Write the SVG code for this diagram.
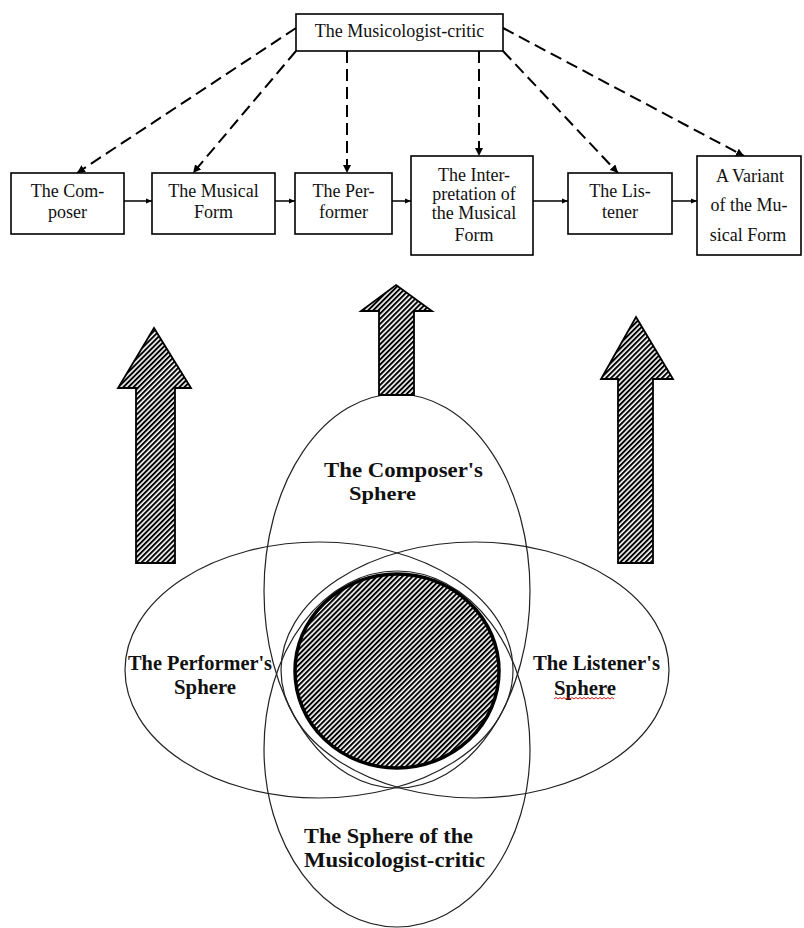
<svg xmlns="http://www.w3.org/2000/svg" width="804" height="928" viewBox="0 0 804 928">
<defs>
<pattern id="hatch" width="3.6" height="3.6" patternUnits="userSpaceOnUse" patternTransform="rotate(45)">
<rect width="3.6" height="3.6" fill="#fff"/>
<rect width="2" height="3.6" fill="#000"/>
</pattern>
<marker id="ah" viewBox="0 0 10 10" refX="10" refY="5" markerWidth="8" markerHeight="8" markerUnits="userSpaceOnUse" orient="auto">
<path d="M0,0 L10,5 L0,10 z" fill="#000"/>
</marker>
<marker id="ahs" viewBox="0 0 10 10" refX="10" refY="5" markerWidth="6" markerHeight="6" markerUnits="userSpaceOnUse" orient="auto">
<path d="M0,1 L10,5 L0,9 z" fill="#000"/>
</marker>
</defs>
<style>
.box{fill:#fff;stroke:#000;stroke-width:1.6}
.t{font-family:"Liberation Serif","Times New Roman",serif;font-size:18px;fill:#111;text-anchor:middle}
.b{font-family:"Liberation Serif","Times New Roman",serif;font-weight:bold;fill:#111}
.dash{fill:none;stroke:#000;stroke-width:2;stroke-dasharray:12,6;marker-end:url(#ah)}
.solid{fill:none;stroke:#000;stroke-width:1.5;marker-end:url(#ahs)}
.sph{fill:none;stroke:#222;stroke-width:1.2}
.big{fill:url(#hatch);stroke:#000;stroke-width:1.8}
</style>
<rect width="804" height="928" fill="#fff"/>

<g id="connectors">
<line class="dash" x1="296" y1="28" x2="77" y2="173"/>
<line class="dash" x1="296" y1="51" x2="193" y2="173"/>
<line class="dash" x1="347" y1="51" x2="347" y2="173"/>
<line class="dash" x1="479" y1="51" x2="479" y2="156"/>
<line class="dash" x1="503" y1="51" x2="618" y2="173"/>
<line class="dash" x1="503" y1="28" x2="744" y2="156"/>
<line class="solid" x1="124" y1="201" x2="152" y2="201"/>
<line class="solid" x1="275" y1="201" x2="295" y2="201"/>
<line class="solid" x1="392" y1="201" x2="411" y2="201"/>
<line class="solid" x1="533" y1="201" x2="568" y2="201"/>
<line class="solid" x1="672" y1="201" x2="697" y2="201"/>
</g>

<g id="musicologist-critic">
<rect class="box" x="296" y="14" width="207" height="37"/>
<text class="t" x="399.5" y="37">The Musicologist-critic</text>
</g>
<g id="composer">
<rect class="box" x="11" y="173" width="113" height="61"/>
<text class="t" x="67.5" y="197">The Com-</text>
<text class="t" x="67.5" y="218">poser</text>
</g>
<g id="musical-form">
<rect class="box" x="152" y="173" width="123" height="61"/>
<text class="t" x="213.5" y="197">The Musical</text>
<text class="t" x="213.5" y="218">Form</text>
</g>
<g id="performer">
<rect class="box" x="295" y="173" width="97" height="61"/>
<text class="t" x="343.5" y="197">The Per-</text>
<text class="t" x="343.5" y="218">former</text>
</g>
<g id="interpretation">
<rect class="box" x="411" y="156" width="122" height="99"/>
<text class="t" x="474" y="181">The Inter-</text>
<text class="t" x="474" y="200">pretation of</text>
<text class="t" x="474" y="219">the Musical</text>
<text class="t" x="474" y="241">Form</text>
</g>
<g id="listener">
<rect class="box" x="568" y="173" width="104" height="61"/>
<text class="t" x="620" y="197">The Lis-</text>
<text class="t" x="620" y="218">tener</text>
</g>
<g id="variant">
<rect class="box" x="697" y="156" width="104" height="99"/>
<text class="t" x="750" y="182">A Variant</text>
<text class="t" x="749" y="211">of the Mu-</text>
<text class="t" x="748" y="241">sical Form</text>
</g>

<g id="spheres">
<g id="composers-sphere">
<ellipse class="sph" cx="397" cy="591" rx="133" ry="197"/>
<text class="b" x="324" y="477" font-size="22" textLength="159" lengthAdjust="spacingAndGlyphs">The Composer's</text>
<text class="b" x="349" y="500" font-size="18" textLength="67" lengthAdjust="spacingAndGlyphs">Sphere</text>
</g>
<g id="musicologist-sphere">
<ellipse class="sph" cx="397" cy="749" rx="133" ry="178"/>
<text class="b" x="304" y="843" font-size="21" textLength="169" lengthAdjust="spacingAndGlyphs">The Sphere of the</text>
<text class="b" x="304" y="867" font-size="21" textLength="181" lengthAdjust="spacingAndGlyphs">Musicologist-critic</text>
</g>
<g id="performers-sphere">
<ellipse class="sph" cx="319" cy="670" rx="194" ry="128"/>
<text class="b" x="128" y="670" font-size="21" textLength="144" lengthAdjust="spacingAndGlyphs">The Performer's</text>
<text class="b" x="174" y="694" font-size="20" textLength="62" lengthAdjust="spacingAndGlyphs">Sphere</text>
</g>
<g id="listeners-sphere">
<ellipse class="sph" cx="475" cy="670" rx="194" ry="128"/>
<text class="b" x="533" y="670" font-size="21" textLength="127" lengthAdjust="spacingAndGlyphs">The Listener's</text>
<text class="b" x="554" y="695" font-size="20" textLength="62" lengthAdjust="spacingAndGlyphs">Sphere</text>
<path d="M554,699 l2,-1.5 l2,1.5 l2,-1.5 l2,1.5 l2,-1.5 l2,1.5 l2,-1.5 l2,1.5 l2,-1.5 l2,1.5 l2,-1.5 l2,1.5 l2,-1.5 l2,1.5 l2,-1.5 l2,1.5 l2,-1.5 l2,1.5 l2,-1.5 l2,1.5 l2,-1.5 l2,1.5 l2,-1.5 l2,1.5 l2,-1.5 l2,1.5 l2,-1.5 l2,1.5 l2,-1.5 l2,1.5" fill="none" stroke="#d00" stroke-width="0.9"/>
</g>
<g id="core">
<ellipse cx="397" cy="671" rx="102" ry="97" fill="url(#hatch)" stroke="#000" stroke-width="3.5"/>
</g>
</g>

<g id="hatched-arrows">
<polygon class="big" points="154,328 191,388 175,388 175,563 136,563 136,388 118,388"/>
<polygon class="big" points="396,285 432,311 414,311 414,395 379,395 379,311 361,311"/>
<polygon class="big" points="636,317 673,379 653,379 653,563 618,563 618,379 601,379"/>
</g>
</svg>
